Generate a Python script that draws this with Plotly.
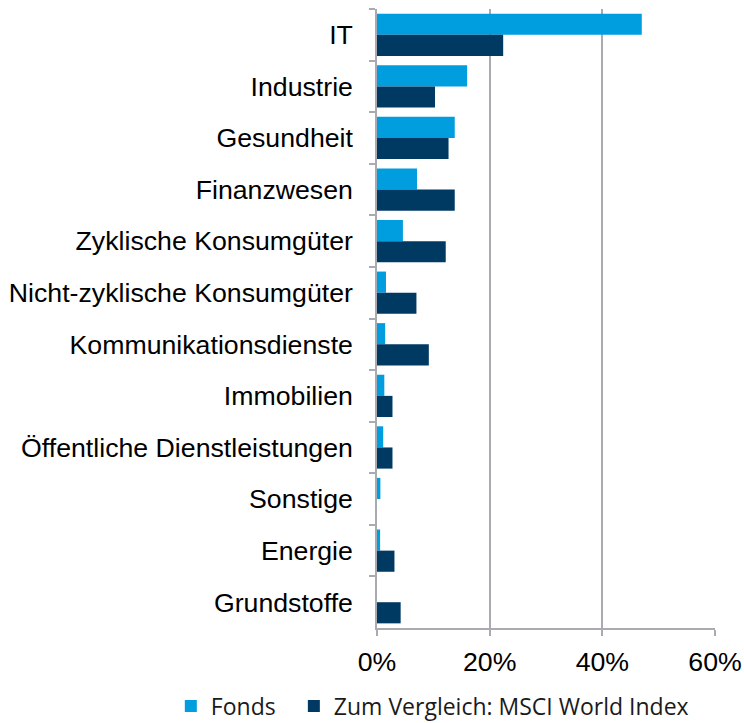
import plotly.graph_objects as go

sectors = [
    "IT", "Industrie", "Gesundheit", "Finanzwesen", "Zyklische Konsumgüter",
    "Nicht-zyklische Konsumgüter", "Kommunikationsdienste", "Immobilien",
    "Öffentliche Dienstleistungen", "Sonstige", "Energie", "Grundstoffe",
]
fonds = [47.0, 16.0, 13.8, 7.1, 4.6, 1.6, 1.45, 1.3, 1.1, 0.6, 0.55, 0.0]
msci = [22.4, 10.3, 12.7, 13.8, 12.2, 7.0, 9.2, 2.75, 2.75, 0.0, 3.1, 4.2]
x_ticks = [0, 20, 40, 60]
x_tick_labels = ["0%", "20%", "40%", "60%"]

fig = go.Figure()
fig.add_trace(go.Bar(
    y=sectors, x=fonds, orientation="h", name="Fonds",
    marker=dict(color="#009DDF", line=dict(width=0)),
    legend="legend",
))
fig.add_trace(go.Bar(
    y=sectors, x=msci, orientation="h", name="Zum Vergleich: MSCI World Index",
    marker=dict(color="#003A63", line=dict(width=0)),
    legend="legend2",
))

legend_font = dict(family="Open Sans", size=23, color="#1a1a1a")

fig.update_layout(
    width=744,
    height=723,
    template="plotly_white",
    paper_bgcolor="white",
    plot_bgcolor="white",
    barmode="group",
    bargap=0.18,
    bargroupgap=0,
    font=dict(family="Liberation Sans, Arial", size=26.7, color="#000000"),
    margin=dict(l=377, r=29, t=9, b=95, autoexpand=False),
    showlegend=True,
    legend=dict(
        orientation="h",
        x=-0.61, xanchor="left",
        y=-0.126, yanchor="middle",
        font=legend_font,
        itemwidth=30,
    ),
    legend2=dict(
        orientation="h",
        x=-0.246, xanchor="left",
        y=-0.126, yanchor="middle",
        font=legend_font,
        itemwidth=30,
    ),
)
fig.update_xaxes(
    range=[0, 60],
    tickvals=x_ticks,
    ticktext=x_tick_labels,
    showgrid=True,
    gridcolor="#A9ABB3",
    gridwidth=1.5,
    showline=True,
    linecolor="#A9ABB3",
    linewidth=1.5,
    ticks="outside",
    ticklen=6,
    tickcolor="#A9ABB3",
    tickwidth=1.5,
    ticklabelstandoff=3,
    zeroline=False,
    automargin=False,
    tickfont=dict(size=26.7),
)
fig.update_yaxes(
    autorange="reversed",
    showline=True,
    linecolor="#A9ABB3",
    linewidth=1.5,
    ticks="outside",
    tickson="boundaries",
    ticklen=6,
    tickcolor="#A9ABB3",
    tickwidth=1.5,
    ticklabelstandoff=17,
    showgrid=False,
    automargin=False,
    tickfont=dict(size=26.7),
)

# drop the default 8px body margin so the 744x723 figure fits the window
fig.write_html(
    "out.html",
    config={"displayModeBar": False},
    post_script="document.body.style.margin='0';",
)
